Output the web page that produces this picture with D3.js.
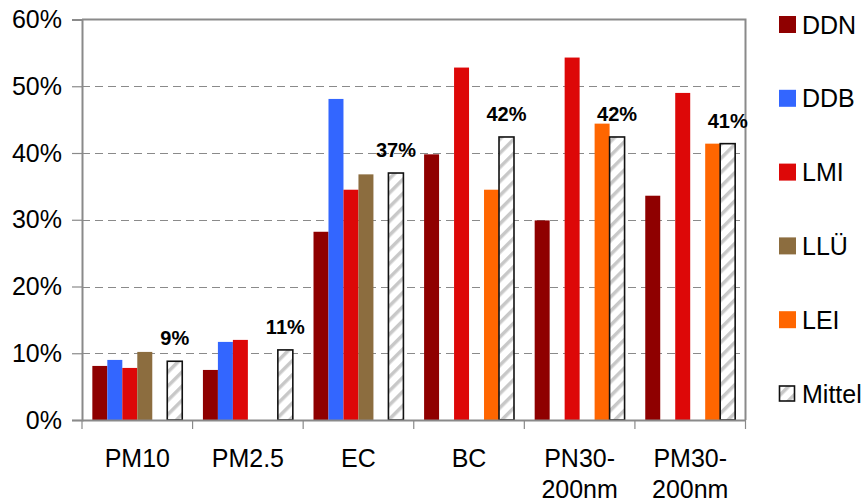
<!DOCTYPE html>
<html>
<head>
<meta charset="utf-8">
<script src="https://cdn.jsdelivr.net/npm/d3@7"></script>
<style>
  html, body { margin: 0; padding: 0; background: #fff; }
  svg { display: block; font-family: "Liberation Sans", Arial, sans-serif; }
</style>
</head>
<body>
<svg id="chart" width="861" height="502"></svg>
<script>
// ---- data ----
const categories = ["PM10", "PM2.5", "EC", "BC", "PN30-200nm", "PM30-200nm"];
const seriesNames = ["DDN", "DDB", "LMI", "LLÜ", "LEI", "Mittel"];
const DDN    = [8.1, 7.5, 28.2, 39.8, 29.9, 33.6];
const DDB    = [9.0, 11.7, 48.1, null, null, null];
const LMI    = [7.8, 12.0, 34.5, 52.8, 54.3, 49.0];
const LLU    = [10.2, null, 36.8, null, null, null];
const LEI    = [null, null, null, 34.5, 44.4, 41.4];
const Mittel = [8.8, 10.5, 37.0, 42.4, 42.4, 41.4];
const mittelLabels = ["9%", "11%", "37%", "42%", "42%", "41%"];
const yTicks = [0, 10, 20, 30, 40, 50, 60];
const seriesValues = [DDN, DDB, LMI, LLU, LEI, Mittel];
const seriesColors = ["#8f0000", "#3366ff", "#dd0808", "#8c6d3f", "#ff6600", "url(#hatch)"];

// ---- layout ----
const svg = d3.select("#chart");
const plot = { left: 82, right: 745.5, top: 19.5, bottom: 420 };
const font = 25;

const defs = svg.append("defs");
const pat = defs.append("pattern").attr("id", "hatch")
  .attr("patternUnits", "userSpaceOnUse").attr("width", 10).attr("height", 10)
  .attr("patternTransform", "rotate(45)");
pat.append("rect").attr("width", 10).attr("height", 10).attr("fill", "#fff");
pat.append("rect").attr("x", 0).attr("width", 3.5).attr("height", 10).attr("fill", "#c8c8c8");

const x0 = d3.scaleBand().domain(categories).range([plot.left, plot.right]).padding(0);
const x1 = d3.scaleBand().domain(seriesNames).range([0, x0.bandwidth()])
  .paddingInner(0).paddingOuter(0.69);
const y = d3.scaleLinear().domain([0, 60]).range([plot.bottom, plot.top]);

// gridlines
svg.append("g").selectAll("line").data(yTicks.filter(t => t > 0 && t < 60)).join("line")
  .attr("x1", plot.left).attr("x2", plot.right)
  .attr("y1", d => Math.round(y(d)) + 0.5).attr("y2", d => Math.round(y(d)) + 0.5)
  .attr("stroke", "#8a8a8a").attr("stroke-width", 1.2).attr("stroke-dasharray", "8,5");

// plot border top/right
svg.append("path")
  .attr("d", `M${plot.left},${plot.top}H${plot.right}V${plot.bottom}`)
  .attr("fill", "none").attr("stroke", "#8a8a8a").attr("stroke-width", 2);

// bars
const rows = [];
categories.forEach((c, i) => {
  seriesNames.forEach((s, j) => {
    const v = seriesValues[j][i];
    if (v != null) rows.push({ c, s, v, j });
  });
});
svg.append("g").selectAll("rect").data(rows).join("rect")
  .attr("x", d => x0(d.c) + x1(d.s))
  .attr("y", d => y(d.v))
  .attr("width", x1.bandwidth())
  .attr("height", d => y(0) - y(d.v))
  .attr("fill", d => seriesColors[d.j])
  .attr("stroke", d => d.s === "Mittel" ? "#111" : "none")
  .attr("stroke-width", d => d.s === "Mittel" ? 1.6 : 0);

// Mittel labels
svg.append("g").selectAll("text").data(categories).join("text")
  .attr("x", c => x0(c) + x1("Mittel") + x1.bandwidth() / 2)
  .attr("y", (c, i) => y(Mittel[i]) - 16)
  .attr("text-anchor", "middle")
  .attr("font-size", 20).attr("font-weight", "bold").attr("fill", "#000")
  .text((c, i) => mittelLabels[i]);

// y axis
const yAxis = svg.append("g").attr("transform", `translate(${plot.left},0)`)
  .call(d3.axisLeft(y).tickValues(yTicks).tickFormat(d => d + "%").tickSize(10).tickPadding(10));
yAxis.select(".domain").attr("stroke", "#8a8a8a").attr("stroke-width", 2);
yAxis.selectAll(".tick line").attr("stroke", "#8a8a8a").attr("stroke-width", 1.2);
yAxis.selectAll(".tick text").attr("font-size", font).attr("fill", "#000")
  .attr("font-family", "Liberation Sans, Arial, sans-serif");

// x axis
const xAxis = svg.append("g").attr("transform", `translate(0,${plot.bottom})`)
  .call(d3.axisBottom(x0).tickSize(0).tickPadding(0));
xAxis.select(".domain").attr("stroke", "#8a8a8a").attr("stroke-width", 2);
xAxis.selectAll(".tick text").remove();
// boundary ticks
const bounds = categories.map(c => x0(c)).concat([x0(categories[categories.length - 1]) + x0.bandwidth()]);
xAxis.append("g").selectAll("line").data(bounds).join("line")
  .attr("x1", d => d).attr("x2", d => d).attr("y1", 0).attr("y2", 9)
  .attr("stroke", "#8a8a8a").attr("stroke-width", 1.2);
// category labels
const catText = xAxis.append("g").selectAll("text").data(categories).join("text")
  .attr("text-anchor", "middle").attr("font-size", font).attr("fill", "#000")
  .attr("transform", c => `translate(${x0(c) + x0.bandwidth() / 2},47)`);
catText.each(function (c) {
  const parts = c.includes("-") ? [c.slice(0, c.indexOf("-") + 1), c.slice(c.indexOf("-") + 1)] : [c];
  d3.select(this).selectAll("tspan").data(parts).join("tspan")
    .attr("x", 0).attr("y", (p, k) => k * 31).text(p => p);
});

// legend
const legend = svg.append("g");
const legY = d3.scalePoint().domain(seriesNames).range([24.5, 393.5]);
const li = legend.selectAll("g").data(seriesNames).join("g")
  .attr("transform", d => `translate(779,${legY(d)})`);
li.append("rect")
  .attr("x", (d, j) => j === 5 ? 0.5 : 0).attr("y", (d, j) => j === 5 ? -7.5 : -8.5)
  .attr("width", (d, j) => j === 5 ? 15 : 17).attr("height", (d, j) => j === 5 ? 15 : 17)
  .attr("fill", (d, j) => seriesColors[j])
  .attr("stroke", (d, j) => j === 5 ? "#111" : "none").attr("stroke-width", 1.6);
li.append("text").attr("x", 23).attr("y", 9).attr("font-size", font).attr("fill", "#000")
  .text(d => d);
</script>
</body>
</html>
